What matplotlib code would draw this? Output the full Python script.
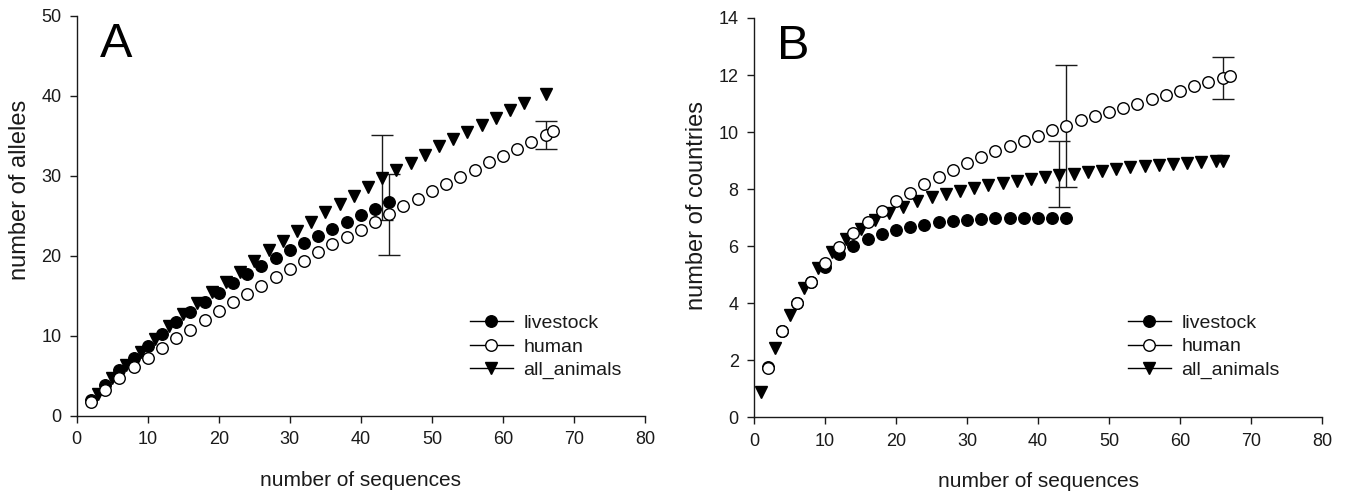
import numpy as np
import matplotlib
matplotlib.use('Agg')
import matplotlib.pyplot as plt

plt.rcParams['font.family'] = ['Liberation Sans', 'DejaVu Sans']

# ---- panel A: number of alleles ----
x_live_A = np.arange(2, 45, 2)
live_A = [2.0, 3.9, 5.7, 7.2, 8.7, 10.2, 11.7, 13.0, 14.2, 15.4, 16.6, 17.7,
          18.75, 19.7, 20.7, 21.6, 22.5, 23.4, 24.3, 25.1, 25.9, 26.7]
x_human_A = list(range(2, 67, 2)) + [67]
human_A = [1.8, 3.3, 4.7, 6.1, 7.3, 8.5, 9.7, 10.8, 12.0, 13.1, 14.2, 15.25,
           16.3, 17.4, 18.4, 19.4, 20.5, 21.5, 22.4, 23.3, 24.3, 25.3, 26.25,
           27.1, 28.1, 29.0, 29.9, 30.8, 31.7, 32.5, 33.4, 34.3, 35.1, 35.6]
x_all_A = list(range(3, 64, 2)) + [66]
all_A = [2.8, 4.7, 6.4, 8.0, 9.6, 11.2, 12.7, 14.1, 15.5, 16.8, 18.0, 19.4,
         20.7, 21.9, 23.1, 24.3, 25.5, 26.5, 27.5, 28.6, 29.7, 30.7, 31.6,
         32.6, 33.7, 34.6, 35.5, 36.4, 37.3, 38.25, 39.1, 40.3]

# error bars (x, low, high)
err_all_A = (43, 24.5, 35.1)
err_human_A = [(44, 20.1, 30.3), (66, 33.4, 36.9)]

# ---- panel B: number of countries ----
x_live_B = np.arange(2, 45, 2)
live_B = [1.75, 3.02, 4.0, 4.75, 5.28, 5.73, 6.01, 6.25, 6.42, 6.57, 6.67,
          6.75, 6.83, 6.89, 6.92, 6.96, 6.98, 6.99, 7.0, 7.0, 7.0, 7.0]
x_human_B = list(range(2, 67, 2)) + [67]
human_B = [1.74, 3.03, 4.0, 4.76, 5.40, 5.96, 6.46, 6.86, 7.25, 7.59, 7.88,
           8.19, 8.44, 8.68, 8.91, 9.14, 9.32, 9.51, 9.69, 9.87, 10.06, 10.22,
           10.41, 10.55, 10.70, 10.86, 10.99, 11.16, 11.3, 11.45, 11.6, 11.74,
           11.9, 11.98]
x_all_B = list(range(1, 66, 2)) + [66]
all_B = [0.90, 2.42, 3.59, 4.53, 5.23, 5.81, 6.25, 6.60, 6.92, 7.16, 7.37,
         7.57, 7.72, 7.84, 7.95, 8.05, 8.14, 8.21, 8.28, 8.35, 8.42, 8.48,
         8.54, 8.60, 8.65, 8.70, 8.76, 8.81, 8.85, 8.89, 8.92, 8.96, 9.0, 9.0]

err_all_B = (43, 7.37, 9.67)
err_human_B = [(44, 8.07, 12.36), (66, 11.16, 12.63)]

txt = '#1a1a1a'
ms = 8.3


def draw_err(ax, x, lo, hi, data_x, data_y):
    y = data_y[list(data_x).index(x)]
    ax.errorbar([x], [y], yerr=[[y - lo], [hi - y]], fmt='none',
                ecolor=txt, elinewidth=1.0, capsize=8, capthick=1.0, zorder=1)


def panel(ax, xl, yl, xh, yh, xa, ya, ea, eh, ylabel, ymax, ystep, letter,
          leg_xy, ylab_xy):
    draw_err(ax, ea[0], ea[1], ea[2], xa, ya)
    for e in eh:
        draw_err(ax, e[0], e[1], e[2], xh, yh)
    ax.plot(xa, ya, linestyle='none', marker='v', ms=ms, color='black',
            zorder=3)
    ax.plot(xl, yl, linestyle='none', marker='o', ms=ms, color='black',
            zorder=4)
    ax.plot(xh, yh, linestyle='none', marker='o', ms=ms, mfc='white',
            mec='black', mew=1.0, zorder=5)

    # legend handles with a line through the marker
    h1, = ax.plot([], [], '-o', color='black', ms=ms, lw=1.0)
    h2, = ax.plot([], [], '-o', color='black', ms=ms, mfc='white', mew=1.0,
                  lw=1.0)
    h3, = ax.plot([], [], '-v', color='black', ms=ms, lw=1.0)
    ax.legend([h1, h2, h3], ['livestock', 'human', 'all_animals'],
              loc='center left', bbox_to_anchor=leg_xy, frameon=False,
              fontsize=14, handlelength=2.2, handletextpad=0.55,
              labelspacing=0.3, borderpad=0, borderaxespad=0,
              labelcolor=txt)

    ax.set_xlim(0, 80)
    ax.set_ylim(0, ymax)
    ax.set_xticks(np.arange(0, 81, 10))
    ax.set_yticks(np.arange(0, ymax + 0.1, ystep))
    for s in ['top', 'right']:
        ax.spines[s].set_visible(False)
    for s in ['left', 'bottom']:
        ax.spines[s].set_linewidth(1.0)
        ax.spines[s].set_color(txt)
    ax.tick_params(direction='out', length=5, width=1.0, colors=txt,
                   labelsize=13, pad=6)
    ax.set_xlabel('number of sequences', fontsize=15, color=txt, labelpad=16)
    ax.set_ylabel(ylabel, fontsize=17, color=txt)
    ax.yaxis.set_label_coords(*ylab_xy)
    ax.text(0.04, 0.985, letter, transform=ax.transAxes, fontsize=35,
            va='top', ha='left', color='black')


fig = plt.figure(figsize=(13.48, 4.92), dpi=100)
W, H = 1348, 492
axA = fig.add_axes([76.7 / W, (H - 416) / H, 568.3 / W, 400 / H])
axB = fig.add_axes([754 / W, (H - 417.3) / H, 568 / W, 399.3 / H])

panel(axA, x_live_A, live_A, x_human_A, human_A, x_all_A, all_A,
      err_all_A, err_human_A, 'number of alleles', 50, 10, 'A',
      (0.692, 0.173), (-0.08, 0.565))

panel(axB, x_live_B, live_B, x_human_B, human_B, x_all_B, all_B,
      err_all_B, err_human_B, 'number of countries', 14, 2, 'B',
      (0.658, 0.177), (-0.081, 0.53))

fig.savefig('out.png', dpi=100)
